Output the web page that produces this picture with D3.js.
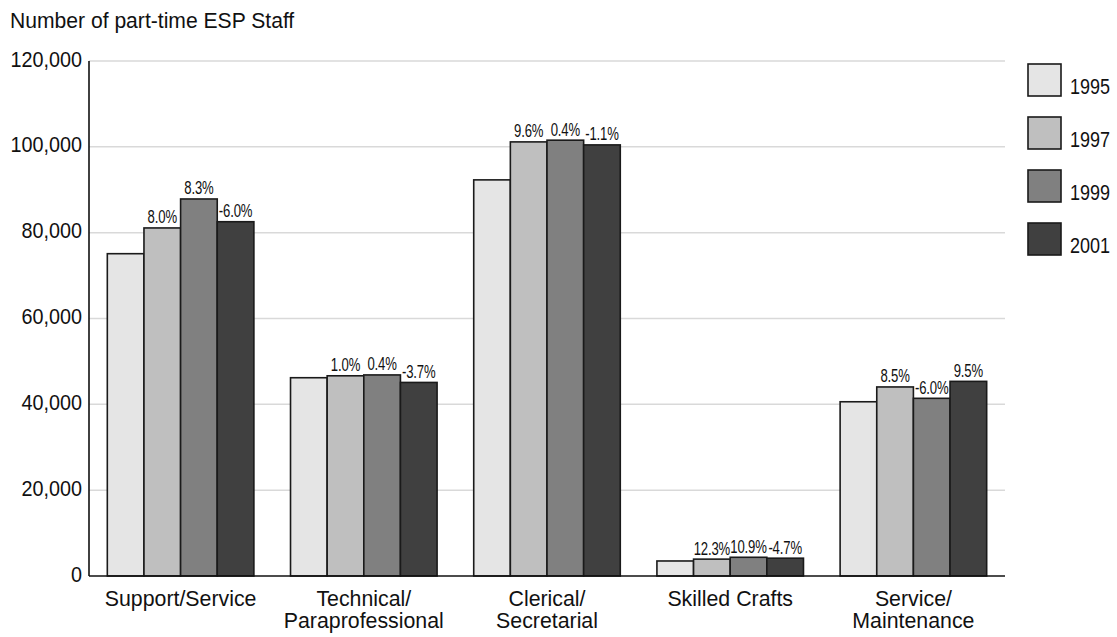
<!DOCTYPE html>
<html>
<head>
<meta charset="utf-8">
<script src="https://cdn.jsdelivr.net/npm/d3@7"></script>
<style>
  html, body { margin: 0; padding: 0; background: #fff; }
  svg { display: block; }
  text { font-family: "Liberation Sans", Arial, sans-serif; fill: #111; }
</style>
</head>
<body>
<svg id="chart" width="1117" height="637"></svg>
<script>
// Job categories (line breaks marked with \n)
const categories = [
  "Support/Service",
  "Technical/\nParaprofessional",
  "Clerical/\nSecretarial",
  "Skilled Crafts",
  "Service/\nMaintenance"
];
const years = ["1995", "1997", "1999", "2001"];

// Part-time ESP staff counts by category
const staff1995 = [75100, 46200, 92300, 3500, 40600];
const staff1997 = [81100, 46650, 101150, 3930, 44050];
const staff1999 = [87850, 46850, 101550, 4360, 41400];
const staff2001 = [82550, 45100, 100450, 4150, 45350];

// Percent change from the previous survey year
const change1997 = ["8.0%", "1.0%", "9.6%", "12.3%", "8.5%"];
const change1999 = ["8.3%", "0.4%", "0.4%", "10.9%", "-6.0%"];
const change2001 = ["-6.0%", "-3.7%", "-1.1%", "-4.7%", "9.5%"];

const yTicks = [0, 20000, 40000, 60000, 80000, 100000, 120000];
const colors = ["#e5e5e5", "#bfbfbf", "#808080", "#404040"];

const seriesValues = [staff1995, staff1997, staff1999, staff2001];
const seriesChange = [null, change1997, change1999, change2001];

const svg = d3.select("#chart");
const plotLeft = 89, plotRight = 1005, plotTop = 61, plotBottom = 576;

const x = d3.scaleBand().domain(categories).range([plotLeft, plotRight])
  .paddingInner(0.2).paddingOuter(0.1);
const xi = d3.scaleBand().domain(years).range([0, x.bandwidth()]).padding(0);
const y = d3.scaleLinear().domain([0, 120000]).range([plotBottom, plotTop]);
const fmt = d3.format(",");

// Condensed text: horizontally squeezed glyphs
function label(sel, tx, ty, size, sx, anchor) {
  return sel.append("text")
    .attr("transform", `translate(${tx},${ty}) scale(${sx},1)`)
    .attr("font-size", size)
    .attr("text-anchor", anchor || "start");
}

// Title
label(svg, 10, 28, 22, 0.96).text("Number of part-time ESP Staff");

// Gridlines
svg.append("g").selectAll("line").data(yTicks.filter(d => d > 0)).join("line")
  .attr("x1", plotLeft).attr("x2", plotRight)
  .attr("y1", d => y(d)).attr("y2", d => y(d))
  .attr("stroke", "#d9d9d9").attr("stroke-width", 1.5);

// Y tick labels
const gy = svg.append("g");
yTicks.forEach(t => {
  label(gy, 82, y(t) + 5.5, 22, 0.9, "end").text(fmt(t));
});

// Bars
years.forEach((yr, si) => {
  const g = svg.append("g");
  categories.forEach((c, i) => {
    const v = seriesValues[si][i];
    g.append("rect")
      .attr("x", x(c) + xi(yr))
      .attr("width", xi.bandwidth())
      .attr("y", y(v))
      .attr("height", y(0) - y(v))
      .attr("fill", colors[si])
      .attr("stroke", "#1a1a1a")
      .attr("stroke-width", 1.6);
    if (seriesChange[si]) {
      label(g, x(c) + xi(yr) + xi.bandwidth() / 2, y(v) - 4.5, 18.5, 0.71, "middle")
        .attr("letter-spacing", -0.2)
        .text(seriesChange[si][i]);
    }
  });
});

// Axis lines
svg.append("line").attr("x1", plotLeft).attr("x2", plotLeft).attr("y1", plotTop).attr("y2", plotBottom)
  .attr("stroke", "#111").attr("stroke-width", 1.6);
svg.append("line").attr("x1", plotLeft).attr("x2", plotRight).attr("y1", plotBottom).attr("y2", plotBottom)
  .attr("stroke", "#111").attr("stroke-width", 1.6);

// Category labels
const gc = svg.append("g");
categories.forEach(c => {
  c.split("\n").forEach((line, i) => {
    label(gc, x(c) + x.bandwidth() / 2, 606 + i * 22, 22, 0.97, "middle").text(line);
  });
});

// Legend
const legend = svg.append("g").selectAll("g").data(years).join("g")
  .attr("transform", (d, i) => `translate(1028,${64 + i * 53})`);
legend.append("rect")
  .attr("width", 33).attr("height", 32)
  .attr("fill", (d, i) => colors[i])
  .attr("stroke", "#1a1a1a").attr("stroke-width", 1.6);
legend.each(function(d) {
  label(d3.select(this), 42, 30, 22.5, 0.8).text(d);
});
</script>
</body>
</html>
